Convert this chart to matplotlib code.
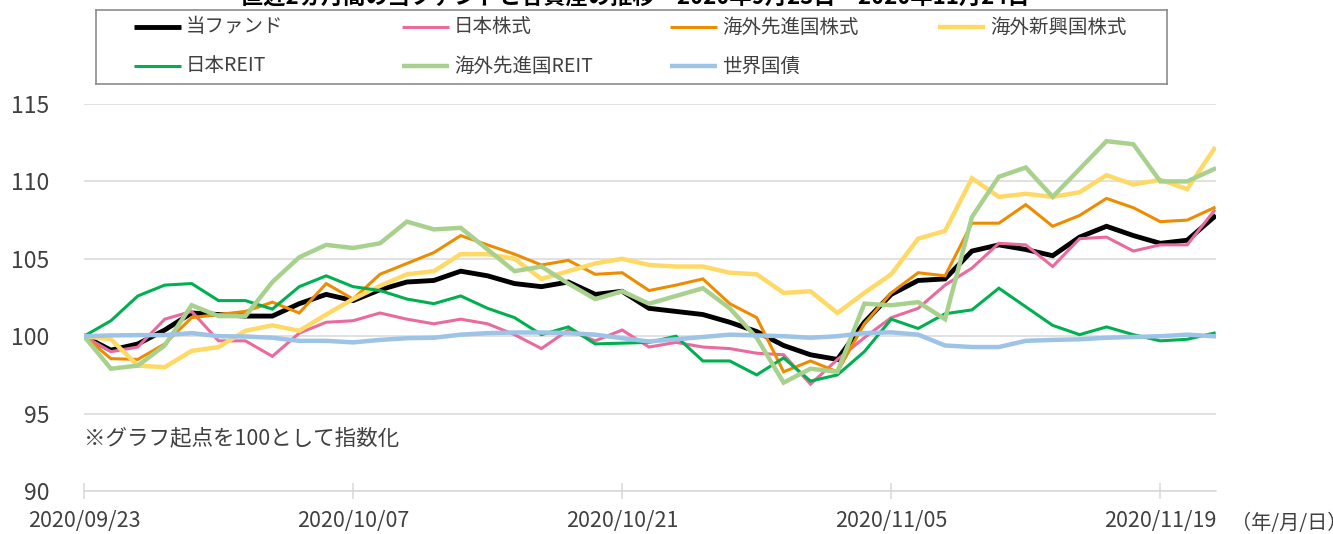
import matplotlib
matplotlib.use("Agg")
import matplotlib.pyplot as plt

plt.rcParams["font.family"] = ["Noto Sans CJK JP", "DejaVu Sans"]

# business days shown on the category axis
dates = [
    "2020/09/23", "2020/09/24", "2020/09/25", "2020/09/28", "2020/09/29", "2020/09/30",
    "2020/10/01", "2020/10/02", "2020/10/05", "2020/10/06", "2020/10/07",
    "2020/10/08", "2020/10/09", "2020/10/12", "2020/10/13", "2020/10/14", "2020/10/15",
    "2020/10/16", "2020/10/19", "2020/10/20", "2020/10/21",
    "2020/10/22", "2020/10/23", "2020/10/26", "2020/10/27", "2020/10/28", "2020/10/29",
    "2020/10/30", "2020/11/02", "2020/11/04", "2020/11/05",
    "2020/11/06", "2020/11/09", "2020/11/10", "2020/11/11", "2020/11/12", "2020/11/13",
    "2020/11/16", "2020/11/17", "2020/11/18", "2020/11/19",
    "2020/11/20", "2020/11/24",
]

fund = [100, 99.1, 99.5, 100.4, 101.5, 101.4, 101.3, 101.3, 102.1, 102.7, 102.3,
        103.0, 103.5, 103.6, 104.2, 103.9, 103.4, 103.2, 103.5, 102.7, 102.9,
        101.8, 101.6, 101.4, 100.9, 100.3, 99.4, 98.8, 98.5, 100.9, 102.7,
        103.6, 103.7, 105.5, 105.9, 105.6, 105.2, 106.4, 107.1, 106.5, 106.0,
        106.2, 107.7]
jp_equity = [100, 99.0, 99.3, 101.1, 101.6, 99.7, 99.7, 98.7, 100.2, 100.9, 101.0,
             101.5, 101.1, 100.8, 101.1, 100.8, 100.1, 99.2, 100.4, 99.7, 100.4,
             99.3, 99.6, 99.3, 99.2, 98.9, 98.8, 96.9, 98.5, 99.9, 101.2,
             101.8, 103.3, 104.4, 106.0, 105.9, 104.5, 106.3, 106.4, 105.5, 105.9,
             105.9, 108.1]
dev_equity = [100, 98.55, 98.5, 99.5, 101.2, 101.4, 101.6, 102.2, 101.5, 103.4, 102.4,
              104.0, 104.7, 105.4, 106.5, 105.9, 105.3, 104.6, 104.9, 104.0, 104.1,
              102.95, 103.3, 103.7, 102.1, 101.2, 97.7, 98.4, 97.7, 100.8, 102.8,
              104.1, 103.9, 107.3, 107.3, 108.5, 107.1, 107.8, 108.9, 108.3, 107.4,
              107.5, 108.3]
em_equity = [100, 99.8, 98.1, 98.0, 99.05, 99.3, 100.35, 100.7, 100.35, 101.4, 102.4,
             103.25, 104.0, 104.2, 105.3, 105.3, 105.0, 103.7, 104.2, 104.7, 105.0,
             104.6, 104.5, 104.5, 104.1, 104.0, 102.8, 102.9, 101.5, 102.8, 104.0,
             106.3, 106.8, 110.2, 109.0, 109.2, 109.0, 109.3, 110.4, 109.8, 110.1,
             109.5, 112.1]
jp_reit = [100, 101.0, 102.6, 103.3, 103.4, 102.3, 102.3, 101.75, 103.2, 103.9, 103.2,
           102.95, 102.4, 102.1, 102.6, 101.8, 101.2, 100.1, 100.6, 99.5, 99.55,
           99.6, 100.0, 98.4, 98.4, 97.5, 98.6, 97.1, 97.5, 99.0, 101.1,
           100.5, 101.45, 101.7, 103.1, 101.9, 100.7, 100.1, 100.6, 100.1, 99.7,
           99.8, 100.2]
dev_reit = [100, 97.9, 98.1, 99.4, 102.0, 101.3, 101.3, 103.5, 105.1, 105.9, 105.7,
            106.0, 107.4, 106.9, 107.0, 105.6, 104.2, 104.5, 103.4, 102.4, 102.9,
            102.1, 102.6, 103.1, 101.8, 99.9, 97.0, 97.9, 97.7, 102.1, 102.0,
            102.2, 101.1, 107.7, 110.3, 110.9, 109.0, 110.8, 112.6, 112.4, 110.0,
            110.0, 110.8]
world_bond = [100, 100.05, 100.07, 100.07, 100.2, 100.0, 99.98, 99.9, 99.7, 99.7, 99.6,
              99.76, 99.87, 99.9, 100.1, 100.2, 100.24, 100.24, 100.2, 100.1, 99.87,
              99.66, 99.8, 99.95, 100.1, 100.05, 100.0, 99.9, 100.0, 100.2, 100.25,
              100.1, 99.4, 99.3, 99.3, 99.7, 99.76, 99.8, 99.9, 99.95, 100.0,
              100.1, 100.0]

series_names = ["当ファンド", "日本株式", "海外先進国株式", "海外新興国株式",
                "日本REIT", "海外先進国REIT", "世界国債"]
series_values = [fund, jp_equity, dev_equity, em_equity, jp_reit, dev_reit, world_bond]
colors = ["#000000", "#EA6A9E", "#EE8C00", "#FFD966", "#00B050", "#A9D18E", "#9DC3E6"]
widths = [3.5, 2.2, 2.2, 3.2, 2.2, 3.2, 3.2]

W, H = 1333, 534
fig = plt.figure(figsize=(W / 100, H / 100), dpi=100)
ax = fig.add_axes([84 / W, 1 - 491 / H, (1216 - 84) / W, (491 - 104) / H])

x = range(len(dates))
for vals, col, lw in zip(series_values, colors, widths):
    ax.plot(x, vals, color=col, lw=lw, solid_joinstyle="miter", zorder=3)

grid_c = "#D9D9D9"
ax.set_xlim(0, len(dates) - 1 + 0.07)
ax.set_ylim(90, 115)
ax.set_yticks(range(90, 116, 5))
ax.grid(axis="y", color=grid_c, lw=1.1)
ax.set_axisbelow(True)
for side in ["top", "right", "left"]:
    ax.spines[side].set_visible(False)
ax.spines["bottom"].set_color(grid_c)
ax.spines["bottom"].set_linewidth(1.1)

tick_idx = list(range(0, len(dates), 10))
ax.set_xticks(tick_idx)
ax.set_xticklabels([dates[i] for i in tick_idx])
ax.tick_params(axis="x", direction="inout", length=11, width=1.1, color=grid_c,
               labelsize=15.5, labelcolor="#404040", pad=8)
ax.tick_params(axis="y", length=0, pad=25, labelsize=16.5, labelcolor="#404040")

ax.text(0.0, 93.4, "※グラフ起点を100として指数化", fontsize=15.5, color="#404040",
        ha="left", va="center")
fig.text(1231 / W, 1 - 524 / H, "（年/月/日）", fontsize=14.5, color="#404040",
         ha="left", va="center")

# title, mostly cropped off at the top edge
fig.text(635 / W, 1 - 4 / H, "直近2ヵ月間の当ファンドと各資産の推移　2020年9月23日～2020年11月24日",
         fontsize=16, fontweight="bold", ha="center", va="baseline", color="#000000")

# legend box drawn in pixel units
lax = fig.add_axes([96 / W, 1 - 84 / H, (1167 - 96) / W, 74 / H])
lax.set_xlim(0, 1071)
lax.set_ylim(74, 0)
lax.set_xticks([])
lax.set_yticks([])
lax.patch.set_alpha(0)
for sp in lax.spines.values():
    sp.set_color("#8C8C8C")
    sp.set_linewidth(1.2)
for k, (name, col, lw) in enumerate(zip(series_names, colors, widths)):
    x0 = 38 + 268 * (k % 4)
    y0 = 17 if k < 4 else 56
    lax.plot([x0, x0 + 47], [y0, y0], color=col, lw=lw, solid_capstyle="butt")
    lax.text(x0 + 52, y0, name, fontsize=14, color="#404040", ha="left", va="center")

fig.savefig("out.png", dpi=100)
